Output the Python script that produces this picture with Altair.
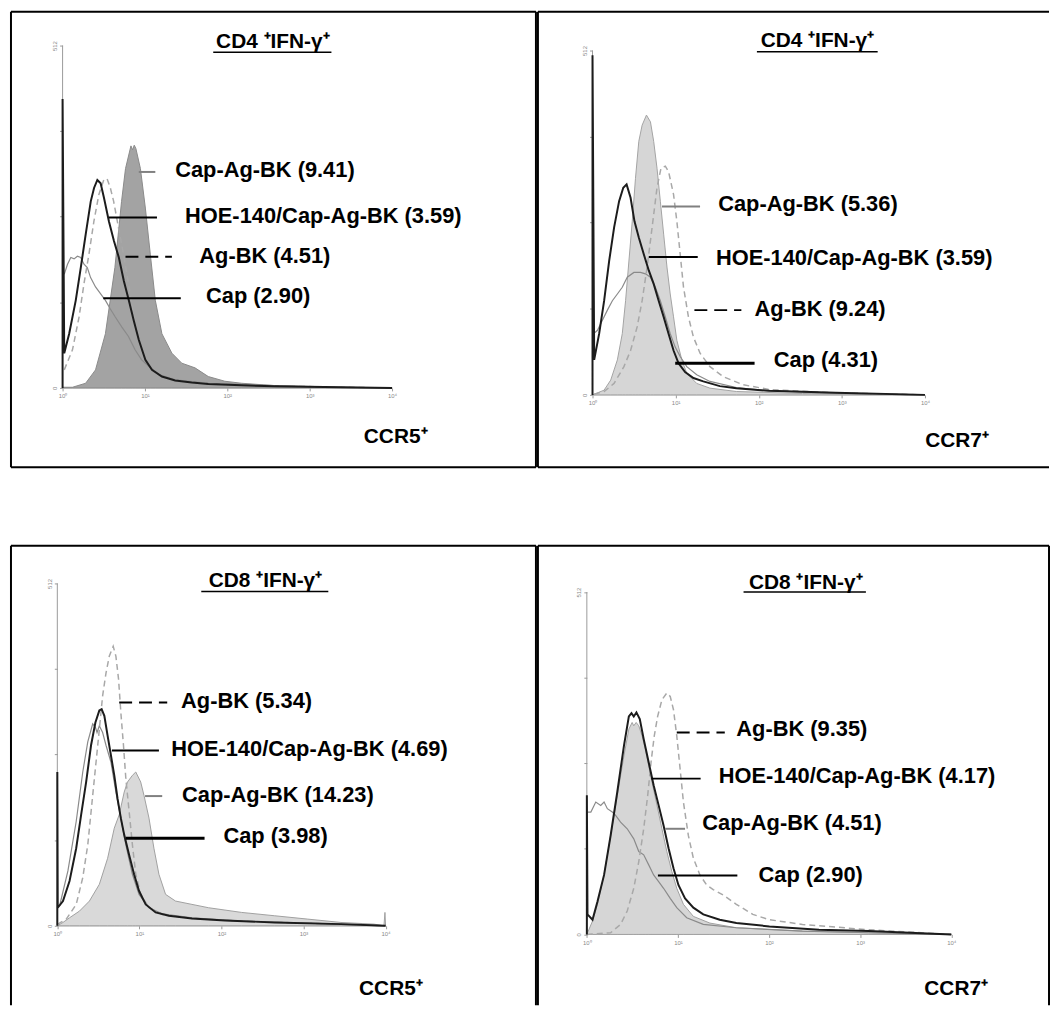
import altair as alt
import pandas as pd

# ---------------- axis ticks (log10 decades / counts) ----------------
X_TICKS = [0, 1, 2, 3, 4]
Y_TICKS = [0, 128, 256, 384, 512]

# ---------------- Panel 1: CD4+IFN-γ+ , CCR5+ ----------------
P1_CAPAGBK_X = [0.0, 0.12, 0.28, 0.40, 0.52, 0.635, 0.716, 0.764, 0.83, 0.85, 0.87, 0.89, 0.945, 1.005, 1.065, 1.126, 1.206, 1.327, 1.447, 1.608, 1.769, 1.970, 2.171, 2.573, 2.975, 3.377, 4.0]
P1_CAPAGBK_Y = [1, 1, 7, 27, 81, 180, 279, 328, 362, 356, 363, 358, 328, 269, 200, 131, 81, 52, 37, 30, 17, 10, 7, 3.5, 1.5, 1, 0]
P1_HOE_X = [0, 0, 0.02, 0.08, 0.16, 0.221, 0.281, 0.342, 0.382, 0.422, 0.462, 0.503, 0.563, 0.623, 0.683, 0.744, 0.804, 0.864, 0.925, 1.005, 1.085, 1.206, 1.367, 1.568, 1.769, 2.171, 2.573, 3.377, 4.0]
P1_HOE_Y = [0, 432, 52, 81, 131, 180, 230, 279, 299, 311, 306, 284, 249, 220, 195, 160, 131, 101, 72, 42, 27, 17, 11, 8, 6, 4, 2.5, 1, 0]
P1_AGBK_X = [0.02, 0.12, 0.20, 0.26, 0.32, 0.38, 0.44, 0.50, 0.54, 0.58, 0.62, 0.68, 0.74, 0.80, 0.86, 0.92, 1.00, 1.13, 1.29, 1.57, 2.17, 3.38, 4.0]
P1_AGBK_Y = [27, 57, 106, 156, 200, 249, 289, 311, 313, 299, 279, 239, 200, 156, 111, 72, 42, 22, 13, 8, 4, 1, 0]
P1_CAP_X = [0.02, 0.06, 0.10, 0.14, 0.18, 0.22, 0.26, 0.30, 0.34, 0.40, 0.46, 0.52, 0.58, 0.64, 0.72, 0.80, 0.88, 0.96, 1.05, 1.17, 1.37, 1.77, 2.57, 3.38, 4.0]
P1_CAP_Y = [170, 185, 195, 193, 197, 195, 185, 180, 165, 151, 141, 131, 118, 106, 91, 77, 57, 42, 32, 20, 12, 7, 3.5, 1, 0]

# ---------------- Panel 2: CD4+IFN-γ+ , CCR7+ ----------------
P2_CAPAGBK_X = [0.0, 0.139, 0.219, 0.299, 0.358, 0.398, 0.438, 0.478, 0.517, 0.557, 0.597, 0.649, 0.697, 0.736, 0.776, 0.816, 0.856, 0.896, 0.935, 0.975, 1.015, 1.075, 1.134, 1.254, 1.413, 1.731, 2.527, 4.0]
P2_CAPAGBK_Y = [0, 7, 22, 52, 91, 140, 199, 258, 322, 377, 401, 416, 406, 377, 337, 288, 239, 190, 150, 116, 81, 52, 32, 17, 10, 5, 2, 0]
P2_HOE_X = [0, 0, 0.02, 0.08, 0.14, 0.20, 0.26, 0.32, 0.37, 0.41, 0.458, 0.505, 0.557, 0.617, 0.677, 0.736, 0.796, 0.856, 0.915, 0.975, 1.035, 1.114, 1.214, 1.333, 1.532, 1.731, 2.129, 2.925, 4.0]
P2_HOE_Y = [0, 505, 52, 91, 140, 199, 249, 288, 308, 313, 293, 258, 234, 209, 185, 165, 140, 116, 91, 66, 47, 34, 25, 20, 13, 10, 6, 3, 0]
P2_AGBK_X = [0.02, 0.139, 0.259, 0.378, 0.458, 0.537, 0.597, 0.657, 0.697, 0.736, 0.776, 0.824, 0.876, 0.915, 0.975, 1.015, 1.055, 1.095, 1.154, 1.214, 1.294, 1.413, 1.572, 1.811, 2.129, 2.925, 4.0]
P2_AGBK_Y = [1, 5, 17, 42, 66, 101, 140, 190, 229, 268, 308, 337, 340, 332, 298, 258, 209, 160, 116, 86, 62, 42, 27, 15, 8, 3, 0]
P2_CAP_X = [0.012, 0.06, 0.119, 0.179, 0.239, 0.299, 0.358, 0.418, 0.498, 0.577, 0.637, 0.697, 0.756, 0.816, 0.876, 0.935, 0.995, 1.055, 1.134, 1.254, 1.413, 1.731, 2.129, 2.925, 4.0]
P2_CAP_Y = [91, 96, 111, 126, 140, 150, 160, 175, 182, 182, 180, 175, 160, 140, 116, 91, 71, 57, 42, 30, 20, 11, 6, 2.5, 0]

# ---------------- Panel 3: CD8+IFN-γ+ , CCR5+ ----------------
P3_CAPAGBK_X = [0.0, 0.069, 0.149, 0.270, 0.391, 0.512, 0.613, 0.694, 0.754, 0.815, 0.855, 0.915, 0.956, 1.016, 1.056, 1.117, 1.177, 1.238, 1.319, 1.440, 1.641, 1.843, 2.246, 2.649, 3.052, 3.456, 3.859, 3.98, 3.992, 4.0]
P3_CAPAGBK_Y = [0, 5, 12, 22, 37, 62, 101, 146, 166, 200, 215, 225, 230, 215, 195, 161, 116, 77, 47, 37, 32, 27, 20, 15, 10, 5, 2.5, 0, 20, 0]
P3_HOE_X = [0, 0, 0.005, 0.069, 0.149, 0.230, 0.290, 0.351, 0.411, 0.464, 0.512, 0.540, 0.573, 0.613, 0.653, 0.694, 0.734, 0.774, 0.815, 0.875, 0.935, 0.996, 1.077, 1.198, 1.359, 1.641, 2.044, 2.649, 3.456, 4.0]
P3_HOE_Y = [0, 230, 27, 37, 67, 116, 166, 215, 270, 304, 322, 324, 314, 284, 255, 225, 190, 161, 136, 106, 77, 52, 32, 20, 15, 11, 8, 5, 2.5, 0]
P3_AGBK_X = [0.0, 0.109, 0.230, 0.310, 0.371, 0.431, 0.472, 0.512, 0.552, 0.593, 0.633, 0.681, 0.714, 0.746, 0.774, 0.806, 0.835, 0.875, 0.915, 0.956, 1.016, 1.117, 1.278, 1.641, 2.246, 3.052, 4.0]
P3_AGBK_Y = [2, 10, 32, 72, 121, 195, 245, 294, 344, 378, 403, 418, 403, 369, 319, 270, 220, 171, 121, 77, 47, 27, 17, 11, 7, 4, 0]
P3_CAP_X = [0.028, 0.129, 0.230, 0.310, 0.371, 0.431, 0.464, 0.484, 0.512, 0.552, 0.593, 0.653, 0.714, 0.774, 0.835, 0.915, 0.996, 1.117, 1.278, 1.641, 2.246, 3.052, 4.0]
P3_CAP_Y = [30, 82, 156, 230, 275, 302, 297, 289, 299, 289, 270, 245, 200, 161, 121, 77, 47, 27, 18, 12, 7, 4, 0]

# ---------------- Panel 4: CD8+IFN-γ+ , CCR7+ ----------------
P4_CAPAGBK_X = [0.0, 0.062, 0.116, 0.189, 0.261, 0.334, 0.407, 0.461, 0.497, 0.515, 0.541, 0.570, 0.606, 0.642, 0.679, 0.715, 0.770, 0.824, 0.878, 0.933, 0.987, 1.060, 1.169, 1.350, 1.641, 2.367, 3.093, 4.0]
P4_CAPAGBK_Y = [0, 20, 45, 89, 148, 208, 267, 307, 317, 312, 317, 312, 297, 277, 252, 228, 193, 158, 124, 94, 69, 45, 27, 17, 10, 5, 2.5, 0]
P4_HOE_X = [0, 0, 0.007, 0.062, 0.116, 0.189, 0.261, 0.334, 0.407, 0.461, 0.490, 0.515, 0.544, 0.581, 0.624, 0.679, 0.733, 0.788, 0.842, 0.897, 0.951, 1.005, 1.078, 1.169, 1.278, 1.459, 1.641, 2.004, 2.548, 3.093, 4.0]
P4_HOE_Y = [0, 208, 30, 22, 49, 89, 148, 213, 282, 326, 331, 326, 332, 322, 292, 257, 223, 193, 163, 129, 99, 74, 54, 40, 30, 22, 17, 12, 7, 5, 0]
P4_AGBK_X = [0.0, 0.261, 0.370, 0.443, 0.515, 0.570, 0.624, 0.668, 0.704, 0.740, 0.777, 0.824, 0.878, 0.915, 0.951, 0.987, 1.024, 1.060, 1.114, 1.169, 1.241, 1.314, 1.387, 1.495, 1.641, 1.822, 2.004, 2.367, 3.093, 4.0]
P4_AGBK_Y = [0, 2.5, 15, 35, 69, 109, 158, 208, 257, 297, 326, 351, 361, 356, 336, 297, 247, 198, 148, 114, 89, 74, 67, 59, 45, 30, 22, 15, 7, 0]
P4_CAP_X = [0.007, 0.044, 0.098, 0.152, 0.189, 0.225, 0.279, 0.316, 0.370, 0.443, 0.515, 0.570, 0.624, 0.679, 0.733, 0.788, 0.842, 0.915, 0.987, 1.096, 1.278, 1.641, 2.367, 3.093, 4.0]
P4_CAP_Y = [183, 183, 198, 193, 198, 188, 183, 178, 168, 158, 143, 124, 119, 104, 89, 79, 69, 54, 40, 25, 15, 10, 5, 2.5, 0]

# ---------------- texts ----------------
TITLES = ["CD4 \u207aIFN-\u03b3\u207a", "CD4 \u207aIFN-\u03b3\u207a", "CD8 \u207aIFN-\u03b3\u207a", "CD8 \u207aIFN-\u03b3\u207a"]
XLABELS = ["CCR5\u207a", "CCR7\u207a", "CCR5\u207a", "CCR7\u207a"]
P1_TEXT = ["Cap-Ag-BK (9.41)", "HOE-140/Cap-Ag-BK (3.59)", "Ag-BK (4.51)", "Cap (2.90)"]
P2_TEXT = ["Cap-Ag-BK (5.36)", "HOE-140/Cap-Ag-BK (3.59)", "Ag-BK (9.24)", "Cap (4.31)"]
P3_TEXT = ["Ag-BK (5.34)", "HOE-140/Cap-Ag-BK (4.69)", "Cap-Ag-BK (14.23)", "Cap (3.98)"]
P4_TEXT = ["Ag-BK (9.35)", "HOE-140/Cap-Ag-BK (4.17)", "Cap-Ag-BK (4.51)", "Cap (2.90)"]

# ---------------- annotation anchors (data units: decade, count) ----------------
P1_TX = [1.367, 1.487, 1.660, 1.741]; P1_TY = [326, 257, 197, 138]
P1_LX1 = [0.925, 0.563, 0.764, 0.494]; P1_LX2 = [1.126, 1.146, 1.327, 1.435]; P1_LY = [323, 255, 196, 134]
P1_LSTYLE = ["grey", "black", "dash", "black"]
P2_TX = [1.512, 1.485, 1.950, 2.181]; P2_TY = [283, 204, 128, 52]
P2_LX1 = [0.836, 0.677, 1.226, 0.995]; P2_LX2 = [1.294, 1.266, 1.791, 1.950]; P2_LY = [280, 205, 126, 47]
P2_LSTYLE = ["grey", "black", "dash", "thick"]
P3_TX = [1.508, 1.387, 1.520, 2.024]; P3_TY = [336, 265, 195, 134]
P3_LX1 = [0.754, 0.665, 1.069, 0.835]; P3_LX2 = [1.339, 1.238, 1.278, 1.794]; P3_LY = [334, 262, 194, 131]
P3_LSTYLE = ["dash", "black", "grey", "thick"]
P4_TX = [1.641, 1.448, 1.267, 1.884]; P4_TY = [307, 237, 166, 89]
P4_LX1 = [0.987, 0.708, 0.860, 0.780]; P4_LX2 = [1.514, 1.249, 1.078, 1.652]; P4_LY = [302, 233, 158, 88]
P4_LSTYLE = ["dash", "black", "grey", "black"]

TITLE_POS = [(2.553, 518, 1.829, 3.264, 502), (2.706, 526, 1.978, 3.431, 510),
             (2.536, 515, 1.754, 3.302, 500), (2.403, 526, 1.720, 3.063, 512)]
XLABEL_POS = [(4.044, -74), (4.386, -69), (4.065, -94), (4.054, -82)]

# panel geometry: view w, view h, x-origin px, baseline px from bottom, px per decade, px for 512 counts
GEOM = [(529, 459, 52, 80, 83.0, 345), (515, 459, 55, 73, 83.75, 347),
        (529, 463, 46.7, 80, 82.7, 345), (515, 463, 49.3, 71.3, 91.8, 345)]
FRAME_SIDES = [("l", "t", "b", "r"), ("l", "t", "b"), ("l", "t", "r"), ("l", "t", "r")]
FILL = ["#a3a3a3", "#d6d6d6", "#d9d9d9", "#d6d6d6"]
FILL_STROKE = ["#8a8a8a", "#a3a3a3", "#a0a0a0", "#a0a0a0"]

FONT = "Liberation Sans"

SERIES = [
    (P1_CAPAGBK_X, P1_CAPAGBK_Y, P1_HOE_X, P1_HOE_Y, P1_AGBK_X, P1_AGBK_Y, P1_CAP_X, P1_CAP_Y),
    (P2_CAPAGBK_X, P2_CAPAGBK_Y, P2_HOE_X, P2_HOE_Y, P2_AGBK_X, P2_AGBK_Y, P2_CAP_X, P2_CAP_Y),
    (P3_CAPAGBK_X, P3_CAPAGBK_Y, P3_HOE_X, P3_HOE_Y, P3_AGBK_X, P3_AGBK_Y, P3_CAP_X, P3_CAP_Y),
    (P4_CAPAGBK_X, P4_CAPAGBK_Y, P4_HOE_X, P4_HOE_Y, P4_AGBK_X, P4_AGBK_Y, P4_CAP_X, P4_CAP_Y),
]
ANN = [
    (P1_TEXT, P1_TX, P1_TY, P1_LX1, P1_LX2, P1_LY, P1_LSTYLE),
    (P2_TEXT, P2_TX, P2_TY, P2_LX1, P2_LX2, P2_LY, P2_LSTYLE),
    (P3_TEXT, P3_TX, P3_TY, P3_LX1, P3_LX2, P3_LY, P3_LSTYLE),
    (P4_TEXT, P4_TX, P4_TY, P4_LX1, P4_LX2, P4_LY, P4_LSTYLE),
]


def curve_df(xs, ys):
    return pd.DataFrame({"x": xs, "y": ys, "i": list(range(len(xs)))})


def panel(k):
    W, H, ox, base, dx, hy = GEOM[k]
    xdom = [-ox / dx, (W - ox) / dx]
    ydom = [-base / hy * 512, (H - base) / hy * 512]
    xsc = alt.Scale(domain=xdom, nice=False, zero=False)
    ysc = alt.Scale(domain=ydom, nice=False, zero=False)
    cx, cy, hx, hyy, ax, ay, px, py = SERIES[k]
    text, tx, ty, lx1, lx2, ly, lst = ANN[k]

    axes_df = pd.DataFrame({"x": [min(X_TICKS), min(X_TICKS)], "x2": [max(X_TICKS), min(X_TICKS)],
                            "y": [min(Y_TICKS), min(Y_TICKS)], "y2": [min(Y_TICKS), max(Y_TICKS)]})
    axis_layer = alt.Chart(axes_df).mark_rule(color="#9a9a9a", strokeWidth=1).encode(
        x=alt.X("x:Q", scale=xsc, axis=alt.Axis(
            values=X_TICKS, offset=-base, domain=False, grid=False, title=None,
            tickSize=3, tickColor="#9a9a9a", labelFontSize=6, labelColor="#888888",
            labelPadding=2, labelFlush=False,
            labelExpr="'10' + ['\u2070','\u00b9','\u00b2','\u00b3','\u2074'][datum.value]")),
        x2="x2:Q",
        y=alt.Y("y:Q", scale=ysc, axis=alt.Axis(
            values=Y_TICKS, offset=-ox, domain=False, grid=False, title=None,
            tickSize=3, tickColor="#9a9a9a", labelFontSize=6, labelColor="#888888",
            labelPadding=2, labelAngle=-90, labelFlush=False,
            labelExpr="datum.value == 0 || datum.value == 512 ? datum.label : ''")),
        y2="y2:Q",
    )

    nx = dict(scale=xsc)
    ny = dict(scale=ysc)

    # box frame along the view edges
    edges = {"l": (xdom[0], xdom[0], ydom[0], ydom[1]), "r": (xdom[1], xdom[1], ydom[0], ydom[1]),
             "t": (xdom[0], xdom[1], ydom[1], ydom[1]), "b": (xdom[0], xdom[1], ydom[0], ydom[0])}
    fr = [edges[s] for s in FRAME_SIDES[k]]
    frame = alt.Chart(pd.DataFrame({"x": [e[0] for e in fr], "x2": [e[1] for e in fr],
                                    "y": [e[2] for e in fr], "y2": [e[3] for e in fr]})).mark_rule(
        color="black", strokeWidth=2).encode(
        x=alt.X("x:Q", **nx), x2="x2:Q", y=alt.Y("y:Q", **ny), y2="y2:Q")

    area = alt.Chart(curve_df(cx, cy)).mark_area(
        fill=FILL[k], stroke=FILL_STROKE[k], strokeWidth=1).encode(
        x=alt.X("x:Q", **nx), y=alt.Y("y:Q", **ny), y2=alt.datum(0))
    cap = alt.Chart(curve_df(px, py)).mark_line(color="#8a8a8a", strokeWidth=1.2).encode(
        x=alt.X("x:Q", **nx), y=alt.Y("y:Q", **ny), order="i:Q")
    agbk = alt.Chart(curve_df(ax, ay)).mark_line(
        color="#a8a8a8", strokeWidth=1.5, strokeDash=[6, 4]).encode(
        x=alt.X("x:Q", **nx), y=alt.Y("y:Q", **ny), order="i:Q")
    hoe = alt.Chart(curve_df(hx, hyy)).mark_line(color="#1c1c1c", strokeWidth=2).encode(
        x=alt.X("x:Q", **nx), y=alt.Y("y:Q", **ny), order="i:Q")

    lead = pd.DataFrame({"x": lx1, "x2": lx2, "y": ly, "s": lst})
    leaders = []
    styles = {"grey": dict(color="#808080", strokeWidth=2),
              "black": dict(color="black", strokeWidth=2),
              "thick": dict(color="black", strokeWidth=3),
              "dash": dict(color="black", strokeWidth=2, strokeDash=[13, 7])}
    for s, kw in styles.items():
        sub = lead[lead["s"] == s]
        if len(sub):
            leaders.append(alt.Chart(sub).mark_rule(**kw).encode(
                x=alt.X("x:Q", **nx), x2="x2:Q", y=alt.Y("y:Q", **ny)))

    labels = alt.Chart(pd.DataFrame({"x": tx, "y": ty, "t": text})).mark_text(
        align="left", baseline="middle", font=FONT, fontSize=22, fontWeight="bold",
        color="black").encode(x=alt.X("x:Q", **nx), y=alt.Y("y:Q", **ny), text="t:N")

    tcx, tcy, ux1, ux2, uy = TITLE_POS[k]
    title = alt.Chart(pd.DataFrame({"x": [tcx], "y": [tcy], "t": [TITLES[k]]})).mark_text(
        align="center", baseline="middle", font=FONT, fontSize=21, fontWeight="bold",
        color="black").encode(x=alt.X("x:Q", **nx), y=alt.Y("y:Q", **ny), text="t:N")
    underline = alt.Chart(pd.DataFrame({"x": [ux1], "x2": [ux2], "y": [uy]})).mark_rule(
        color="black", strokeWidth=1.5).encode(x=alt.X("x:Q", **nx), x2="x2:Q", y=alt.Y("y:Q", **ny))

    lx, lyy = XLABEL_POS[k]
    xlab = alt.Chart(pd.DataFrame({"x": [lx], "y": [lyy], "t": [XLABELS[k]]})).mark_text(
        align="center", baseline="middle", font=FONT, fontSize=21, fontWeight="bold",
        color="black").encode(x=alt.X("x:Q", **nx), y=alt.Y("y:Q", **ny), text="t:N")

    return alt.layer(axis_layer, frame, area, cap, agbk, hoe, *leaders, labels, title, underline, xlab).properties(
        width=W, height=H)


row1 = alt.hconcat(panel(0), panel(1), spacing=0)
row2 = alt.hconcat(panel(2), panel(3), spacing=0)
chart = alt.vconcat(row1, row2, spacing=77).properties(
    padding={"left": 2, "top": -1, "right": 0, "bottom": 0}
).configure(background="white").configure_view(stroke=None)

chart.save("out.html", embed_options={"renderer": "svg", "actions": False})
